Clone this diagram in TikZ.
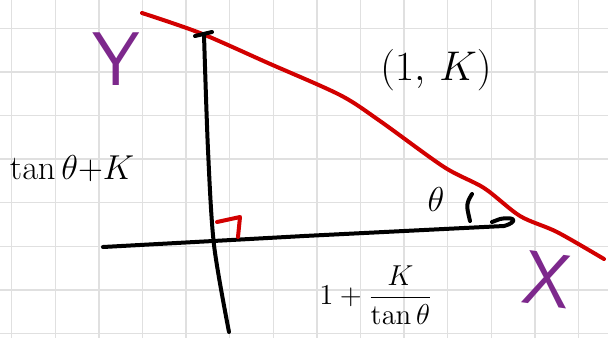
\documentclass[tikz,border=0pt]{standalone}
\definecolor{penred}{RGB}{210,0,0}
\definecolor{penpurple}{RGB}{125,40,140}
\begin{document}
\begin{tikzpicture}[x=0.5pt,y=-0.5pt,
    gridline/.style={draw=black!12,line width=0.7pt},
    ink/.style={line width=2pt,line cap=round,line join=round},
    letter/.style={text=penpurple,inner sep=0pt,font=\sffamily\fontsize{38}{40}\selectfont}]
    \fill[white] (0,0) rectangle (608,338);
    \useasboundingbox (0,0) rectangle (608,338);
    %% grid paper
    \foreach \x in {0,...,13}
        \draw[gridline] ({11.7+43.6*\x},0) -- ({11.7+43.6*\x},338);
    \foreach \y in {0,...,7}
        \draw[gridline] (0,{28.3+43.6*\y}) -- (608,{28.3+43.6*\y});
    %% red line
    \draw[ink,penred] plot[smooth,tension=0.5] coordinates {(142,13) (200,33)
        (268,63) (340,95) (380,121) (444,167) (484,188) (520,216) (557,232) (604,259)};
    %% axes
    \draw[ink] (195,36) -- (212,32);
    \draw[ink] plot[smooth,tension=0.5] coordinates {(204,35) (208,150) (214,245) (229,332)};
    \draw[ink] (103,247) -- (213,241) -- (304,236) -- (504,226)
        .. controls (518,222) and (516,216) .. (500,219) -- (492,222);
    %% angle marks
    \draw[ink] (472,194) .. controls (466,204) .. (470,221);
    \draw[ink,penred] (217,222) -- (240,217) -- (238,237);
    %% labels
    \node[letter,anchor=center] (Y) at (116,59) {Y};
    \node[letter,anchor=center,rotate=-8] (X) at (548,280) {X};
    \node[anchor=center,font=\huge] (P) at (436,70) {$(1,\,K)$};
    \node[anchor=center,font=\LARGE] (h) at (72,169) {$\tan\theta{+}K$};
    \node[anchor=center,font=\LARGE] (t) at (436,199) {$\theta$};
    \node[anchor=center,font=\Large] (b) at (376,295) {$1+\displaystyle\frac{K}{\tan\theta}$};
\end{tikzpicture}
\end{document}
